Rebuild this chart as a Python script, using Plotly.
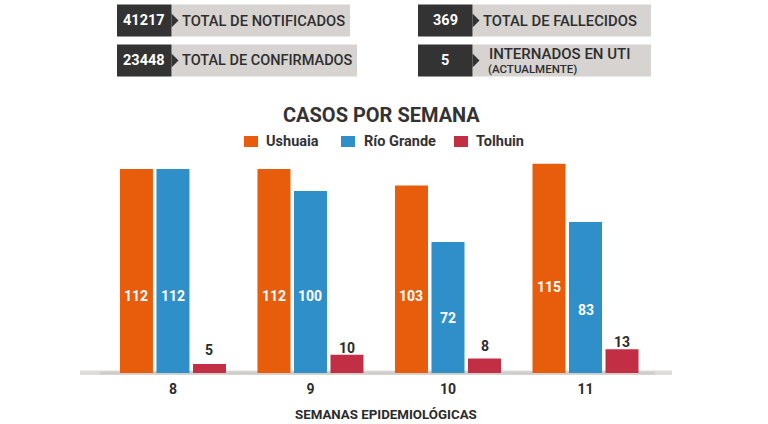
import plotly.graph_objects as go

weeks = ["8", "9", "10", "11"]
ushuaia = [112, 112, 103, 115]
rio_grande = [112, 100, 72, 83]
tolhuin = [5, 10, 8, 13]

stat_values = ["41217", "23448", "369", "5"]
stat_labels = ["TOTAL DE NOTIFICADOS", "TOTAL DE CONFIRMADOS", "TOTAL DE FALLECIDOS", "INTERNADOS EN UTI"]
stat_note = "(ACTUALMENTE)"

W, H = 768, 424
L, R, T, B = 80, 672, 150, 373
FONT = "Roboto"
DARK = "#333333"
GREY = "#d6d3d1"
COL = ["#e85d0c", "#2f8fc9", "#c22f45"]

def px(x):
    return (x - L) / (R - L)

def py(y):
    return (B - y) / (B - T)

fig = go.Figure()
for name, vals, col in [("Ushuaia", ushuaia, COL[0]),
                        ("Río Grande", rio_grande, COL[1]),
                        ("Tolhuin", tolhuin, COL[2])]:
    fig.add_bar(name=name, x=weeks, y=vals, marker=dict(color=col, line_width=0),
                cliponaxis=False, showlegend=False, hoverinfo="skip")

shapes, ann = [], []

def rect(x0, y0, x1, y1, col, layer="below", opacity=1):
    shapes.append(dict(type="rect", xref="paper", yref="paper", x0=px(x0), x1=px(x1),
                       y0=py(y1), y1=py(y0), fillcolor=col, line_width=0, layer=layer, opacity=opacity))

def text(x, y, s, size, col, anchor="left", weight=700):
    ann.append(dict(xref="paper", yref="paper", x=px(x), y=py(y), text=s, showarrow=False,
                    xanchor=anchor, yanchor="middle", borderpad=0,
                    font=dict(family=FONT, size=size, color=col, weight=weight)))

boxes = [(117, 4, 350), (117, 44, 357), (418, 4, 651), (418, 44, 651)]
label_sizes = [14.7, 14.5, 14.8]
for i, (x0, y0, xe) in enumerate(boxes):
    xm = x0 + 54.5
    rect(xm, y0 + 0.5, xe, y0 + 32.5, GREY)
    rect(x0, y0 + 0.5, xm, y0 + 32.5, DARK)
    cy = y0 + 16.5
    shapes.append(dict(type="path", xref="paper", yref="paper", fillcolor=DARK, line_width=0,
                       path=f"M {px(xm)} {py(cy-7)} L {px(xm+7)} {py(cy)} L {px(xm)} {py(cy+7)} Z"))
    text(x0 + 27, cy, stat_values[i], 14.5, "white", "center")
    if i < 3:
        text(xm + 9.5, cy, stat_labels[i], label_sizes[i], "#2e2e2e", weight=500)
    else:
        text(xm + 15, cy - 6.5, stat_labels[i], 15, "#2e2e2e", weight=500)
        text(xm + 14.5, cy + 8.5, stat_note, 11.5, "#2e2e2e", weight=500)

# baseline band
rect(80, 370.5, 672, 375, "#dedcda")
rect(100, 371.5, 655, 374.5, "#c9c7c5", opacity=0.7)

# legend key
for name, col, x0, tx in zip(["Ushuaia", "Río Grande", "Tolhuin"], COL, [244, 341, 454], [265, 363, 475]):
    rect(x0, 136, x0 + 14, 147, col)
    text(tx, 141.5, name, 14.5, "#333333")

# value labels (pixel rows)
for off, rows, series, col, size in [(-0.2655, [296, 296, 296, 287], ushuaia, "white", 14),
                                     (0.0, [296, 296, 318, 310], rio_grande, "white", 14),
                                     (0.2655, [350, 348, 346, 342], tolhuin, "#2b2b2b", 14)]:
    for i, (r, v) in enumerate(zip(rows, series)):
        ann.append(dict(xref="x", yref="paper", x=i + off, y=py(r), text=str(v), showarrow=False,
                        xanchor="center", yanchor="middle",
                        font=dict(family=FONT, size=size, color=col, weight=700)))

text(381, 115, "CASOS POR SEMANA", 20, "#333333", "center")
text(385.5, 414.5, "SEMANAS EPIDEMIOLÓGICAS", 13.3, "#2b2b2b", "center")

fig.update_layout(
    width=W, height=H, autosize=False, paper_bgcolor="white", plot_bgcolor="white",
    margin=dict(l=L, r=W - R, t=T, b=H - B, pad=0),
    barmode="group", bargap=0.2035, bargroupgap=0.096, showlegend=False,
    xaxis=dict(type="category", range=[-0.676, 3.629], showgrid=False, showline=False, zeroline=False,
               ticks="", automargin=False, ticklabelstandoff=6,
               tickfont=dict(family=FONT, size=14, color="#2b2b2b", weight=700)),
    yaxis=dict(range=[0, 122.5], visible=False, showgrid=False, zeroline=False, automargin=False),
    shapes=shapes, annotations=ann,
)
fig.write_html("out.html", config=dict(displayModeBar=False),
               post_script="document.body.style.margin='0';document.documentElement.style.overflow='hidden';")
